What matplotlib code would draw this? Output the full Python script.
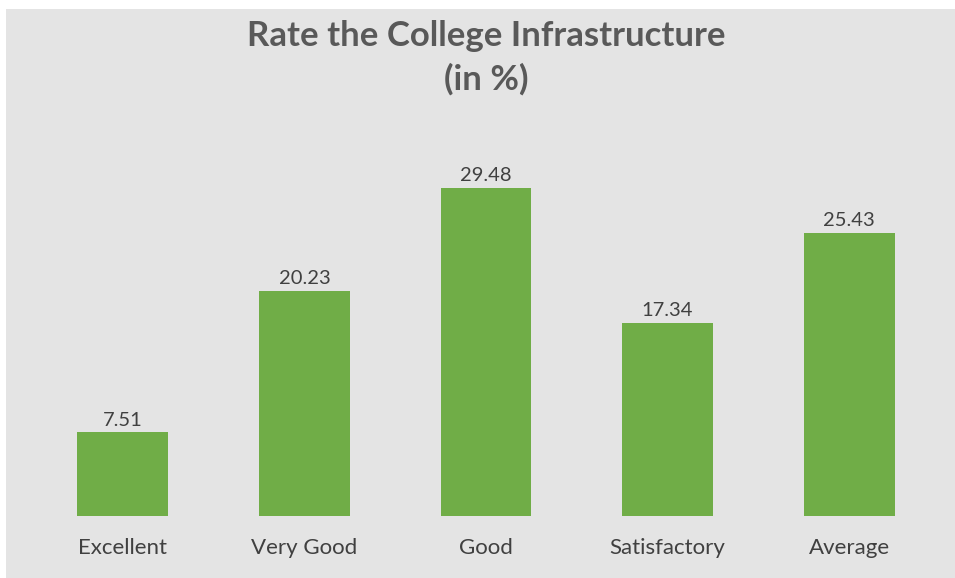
import matplotlib.pyplot as plt
from matplotlib.patches import Rectangle

# Datos del gráfico
categorias = ['Excellent', 'Very Good', 'Good', 'Satisfactory', 'Average']
valores = [7.51, 20.23, 29.48, 17.34, 25.43]
titulo = ['Rate the College Infrastructure', '(in %)']

plt.rcParams['font.family'] = ['Lato', 'DejaVu Sans']

fig = plt.figure(figsize=(9.55, 5.78), dpi=100, facecolor='white')

# Fondo gris del área del gráfico
fig.patches.append(Rectangle((6 / 955, 0), 1 - 6 / 955, 1 - 9 / 578,
                             transform=fig.transFigure, facecolor='#e4e4e4',
                             edgecolor='none', zorder=-5))

ax = fig.add_axes([32 / 955, 62 / 578, 908 / 955, 390 / 578])
ax.set_facecolor('none')

x = range(len(categorias))
barras = ax.bar(x, valores, width=0.5, color='#70ad47')
ax.set_xlim(-0.5, len(categorias) - 0.5)
ax.set_ylim(0, 35)

for b, v in zip(barras, valores):
    ax.text(b.get_x() + b.get_width() / 2, v + 0.3, f'{v:.2f}',
            ha='center', va='bottom', fontsize=14.5, color='#404040')

ax.set_xticks(list(x))
ax.set_xticklabels(categorias, fontsize=16, color='#404040')
ax.tick_params(axis='x', length=0, pad=16)
ax.set_yticks([])
for s in ax.spines.values():
    s.set_visible(False)

for linea, ypx in zip(titulo, [36, 79]):
    fig.text(486 / 955, 1 - ypx / 578, linea, ha='center', va='center',
             fontsize=25, fontweight='bold', color='#595959')

fig.savefig('out.png', dpi=100, facecolor=fig.get_facecolor())
